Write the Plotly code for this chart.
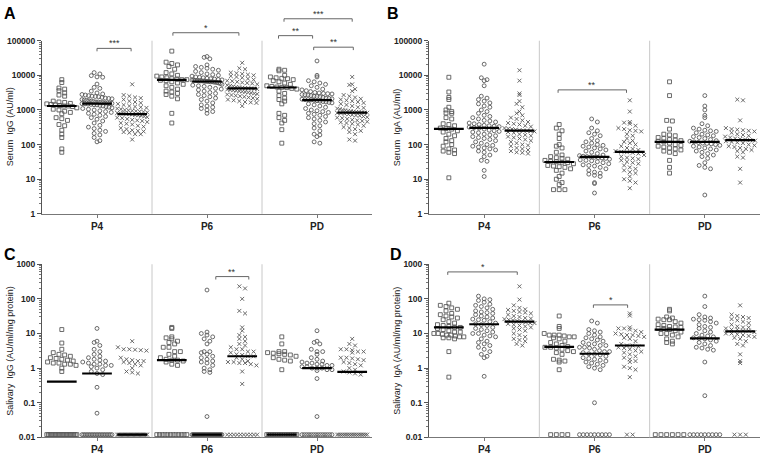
import numpy as np
import plotly.graph_objects as go

ND = 0.012  # not-detected samples, drawn as a row at the floor of the salivary panels

groups = ["P4", "P6", "PD"]
letters = ["A", "B", "C", "D"]
ytitles = ["Serum&nbsp; IgG (AU/ml)", "Serum&nbsp; IgA (AU/ml)",
           "Salivary&nbsp; IgG (AU/ml/mg protein)", "Salivary&nbsp; IgA (AU/ml/mg protein)"]

# --- A: serum IgG (AU/ml); per group: squares / circles / crosses
a_p4_sq = [7500, 6200, 4300, 4000, 3600, 3100, 2700, 2500, 1800, 1700, 1650, 1550, 1500, 1450, 1400,
           1350, 1300, 1300, 1250, 1150, 1050, 1000, 920, 850, 780, 600, 560, 500, 380, 350, 260, 200,
           160, 75, 60]
a_p4_ci = [12000, 11000, 9800, 9000, 8800, 5600, 4500, 4200, 3500, 3100, 2900, 2800, 2700, 2600, 2500,
           2450, 2400, 2300, 2200, 2150, 2100, 2000, 1950, 1900, 1850, 1800, 1750, 1700, 1700, 1650,
           1650, 1600, 1600, 1580, 1550, 1520, 1500, 1480, 1450, 1420, 1400, 1350, 1300, 1250, 1200,
           1150, 1100, 1050, 1000, 950, 900, 850, 800, 750, 700, 650, 600, 540, 480, 420, 360, 320, 290,
           260, 240, 210, 190, 160, 130, 120]
a_p4_x = [5500, 2700, 2500, 2300, 2200, 2000, 1800, 1700, 1600, 1500, 1400, 1300, 1250, 1200, 1150,
          1100, 1050, 1000, 980, 950, 920, 900, 880, 850, 820, 800, 800, 780, 760, 740, 720, 700, 680,
          650, 620, 600, 580, 550, 520, 500, 480, 450, 420, 400, 380, 350, 330, 300, 280, 260, 250, 240,
          230, 220, 200, 200, 140]
a_p6_sq = [50000, 24000, 22000, 20000, 18000, 15000, 12000, 11000, 10000, 9500, 9000, 8500, 8000, 7800,
           7500, 7500, 7200, 7000, 6500, 6000, 5500, 5000, 4500, 4000, 3500, 3300, 3000, 2800, 2500,
           2100, 800, 420]
a_p6_ci = [35000, 33000, 30000, 20000, 18000, 17000, 16000, 15000, 14000, 13000, 12000, 11000, 10500,
           10000, 9500, 9000, 8800, 8500, 8200, 8000, 7800, 7600, 7400, 7300, 7200, 7100, 7000, 7000,
           6900, 6900, 6800, 6700, 6700, 6600, 6500, 6500, 6400, 6300, 6200, 6000, 5800, 5500, 5200,
           5000, 4800, 4500, 4200, 4000, 3800, 3500, 3200, 3000, 2800, 2600, 2400, 2200, 2000, 1800,
           1600, 1400, 1300, 1200, 1100, 1000, 900, 800]
a_p6_x = [23000, 16000, 15000, 12000, 11500, 11000, 10500, 10000, 9500, 9000, 8500, 8000, 7500, 7000,
          6800, 6500, 6200, 6000, 5800, 5500, 5200, 5000, 4800, 4600, 4500, 4400, 4300, 4200, 4200, 4100,
          4000, 3900, 3800, 3700, 3600, 3500, 3400, 3300, 3200, 3100, 3000, 2900, 2800, 2700, 2600, 2500,
          2400, 2300, 2200, 2100, 2000, 1900, 1800, 1700, 1650, 1600, 1300]
a_pd_sq = [15000, 14000, 13500, 10000, 9000, 8500, 8200, 8000, 7500, 7000, 6500, 6000, 5500, 5000, 4800,
           4600, 4500, 4400, 4200, 4000, 3500, 3000, 2600, 2200, 2000, 1800, 1500, 800, 700, 600, 500,
           420, 270, 110]
a_pd_ci = [26000, 10000, 9000, 7000, 6500, 6000, 5500, 5000, 4500, 4000, 3800, 3600, 3400, 3200, 3100,
           3000, 2950, 2900, 2800, 2750, 2700, 2600, 2500, 2450, 2400, 2300, 2200, 2150, 2100, 2050,
           2000, 2000, 1950, 1900, 1850, 1800, 1750, 1700, 1650, 1600, 1500, 1400, 1300, 1200, 1100,
           1000, 950, 900, 850, 800, 750, 700, 650, 600, 550, 500, 450, 400, 350, 300, 250, 200, 190,
           170, 120, 110]
a_pd_x = [9000, 5500, 5300, 4000, 3500, 2700, 2500, 2300, 2100, 2000, 1900, 1800, 1700, 1600, 1500, 1400,
          1300, 1200, 1150, 1100, 1050, 1000, 980, 950, 920, 900, 880, 860, 850, 840, 830, 820, 800, 780,
          750, 720, 700, 680, 650, 620, 600, 580, 550, 520, 500, 480, 460, 440, 420, 400, 380, 350, 320,
          300, 280, 250, 230, 200, 140, 130]

# --- B: serum IgA (AU/ml)
b_p4_sq = [8800, 3300, 2300, 2000, 1200, 1000, 900, 820, 800, 600, 550, 400, 380, 350, 300, 290, 280,
           250, 230, 200, 180, 150, 130, 120, 100, 90, 75, 70, 65, 60, 55, 11]
b_p4_ci = [21000, 8500, 7500, 7000, 5000, 2500, 2200, 2000, 1800, 1600, 1500, 1300, 1200, 1000, 900, 800,
           700, 650, 600, 550, 500, 480, 450, 420, 400, 380, 360, 350, 340, 330, 320, 310, 300, 280, 260,
           250, 240, 230, 220, 200, 190, 180, 170, 160, 150, 140, 130, 120, 110, 100, 95, 90, 85, 80, 75,
           70, 65, 60, 50, 45, 35, 33, 18, 12]
b_p4_x = [14000, 7000, 3000, 2700, 1800, 1500, 1200, 900, 800, 700, 600, 550, 500, 450, 420, 400, 380,
          350, 330, 300, 290, 280, 270, 260, 255, 250, 245, 240, 230, 220, 200, 190, 180, 170, 160, 150,
          140, 130, 120, 110, 100, 95, 90, 80, 75, 70, 65, 60, 58, 55]
b_p6_sq = [380, 300, 250, 200, 150, 100, 90, 80, 60, 50, 45, 42, 40, 38, 35, 33, 32, 31, 30, 28, 25, 24,
           23, 22, 20, 18, 15, 12, 10, 8, 7, 5, 5, 5]
b_p6_ci = [550, 450, 300, 250, 220, 200, 180, 150, 130, 120, 110, 100, 95, 90, 85, 80, 75, 70, 65, 60, 55,
           50, 48, 46, 45, 44, 43, 42, 41, 40, 38, 36, 35, 34, 32, 30, 28, 26, 25, 24, 22, 20, 18, 16, 15,
           14, 13, 12, 8, 7.5, 4]
b_p6_x = [1900, 900, 450, 430, 400, 350, 300, 280, 260, 250, 240, 200, 180, 150, 130, 120, 110, 100, 90,
          80, 75, 70, 65, 62, 60, 58, 55, 50, 45, 42, 40, 38, 35, 32, 30, 28, 25, 22, 20, 18, 16, 15, 12,
          10, 9, 8, 5.5]
b_pd_sq = [6500, 2600, 500, 480, 280, 200, 190, 180, 160, 150, 140, 135, 130, 125, 120, 110, 100, 95, 90,
           85, 80, 75, 70, 65, 60, 55, 35, 22, 15]
b_pd_ci = [2600, 1300, 1000, 700, 600, 400, 350, 300, 280, 260, 250, 240, 220, 200, 190, 180, 170, 160,
           150, 140, 130, 125, 120, 115, 110, 108, 105, 100, 95, 90, 85, 80, 75, 70, 65, 60, 55, 50, 45,
           40, 30, 25, 22, 20, 3.5]
b_pd_x = [2000, 1900, 500, 300, 280, 270, 260, 250, 240, 220, 200, 190, 180, 170, 160, 150, 145, 140, 135,
          130, 125, 120, 115, 110, 100, 95, 90, 85, 80, 75, 70, 65, 60, 45, 42, 20, 8]

# --- C: salivary IgG (AU/ml/mg protein)
c_p4_sq = [13, 5.3, 3.5, 2.8, 2.5, 2.4, 2.2, 2.0, 1.9, 1.8, 1.7, 1.6, 1.5, 1.4, 1.4, 1.3, 1.3, 1.2, 1.0,
           0.8] + [ND] * 20
c_p4_ci = [14, 6, 5.5, 4.5, 3.5, 3.0, 2.5, 2.2, 2.0, 1.8, 1.7, 1.6, 1.5, 1.4, 1.3, 1.3, 1.2, 1.2, 1.1,
           1.0, 0.9, 0.8, 0.7, 0.65, 0.28, 0.05] + [ND] * 19
c_p4_x = [6, 4, 3.5, 3.5, 3.4, 3.3, 3.2, 2.0, 1.8, 1.7, 1.6, 1.6, 1.5, 1.4, 1.3, 1.2, 1.0, 0.8, 0.75,
          0.7] + [ND] * 26
c_p6_sq = [15, 14, 8, 7.5, 7, 6, 5.5, 5, 4, 4, 3, 3, 2.5, 2.2, 2, 1.8, 1.7, 1.7, 1.6, 1.5, 1.3,
           1.2] + [ND] * 12
c_p6_ci = [180, 11, 10, 9, 8, 7, 6, 5, 3, 3, 2.8, 2.5, 2.2, 2, 1.8, 1.6, 1.5, 1.4, 1.2, 1.0, 0.9, 0.8,
           0.75, 0.04] + [ND] * 30
c_p6_x = [230, 200, 100, 45, 38, 15, 12, 9, 8, 7, 6, 5, 4.5, 4, 3.5, 3.5, 3, 3, 2.8, 2.5, 2.4, 2.2, 2.2,
          2.0, 1.8, 1.6, 1.5, 1.5, 1.4, 1.4, 1.3, 1.2, 0.8, 0.35] + [ND] * 10
c_pd_sq = [8, 5, 3, 3, 2.8, 2.7, 2.6, 2.5, 2.4, 2.2, 2, 1.8, 1.7, 1.6, 0.9] + [ND] * 18
c_pd_ci = [12, 6, 5.5, 5, 3.5, 3, 3, 2.5, 2, 1.8, 1.6, 1.5, 1.4, 1.4, 1.3, 1.3, 1.2, 1.2, 1.1, 1.1, 1.0,
           1.0, 1.0, 0.9, 0.9, 0.85, 0.5, 0.04] + [ND] * 14
c_pd_x = [7, 5, 4.5, 3.5, 3.5, 3.3, 3, 3, 2.8, 2, 2, 1.9, 1.8, 1.7, 1.5, 1.4, 1.3, 1.2, 1, 0.9, 0.8, 0.75,
          0.7, 0.65] + [ND] * 18

# --- D: salivary IgA (AU/ml/mg protein)
d_p4_sq = [75, 65, 60, 55, 50, 45, 38, 35, 32, 30, 28, 25, 22, 20, 18, 17, 16, 15, 15, 14, 13, 12, 11,
           11, 10, 10, 9.5, 9, 9, 8.5, 8, 8, 7.5, 7.5, 7, 3, 0.55]
d_p4_ci = [120, 100, 95, 90, 80, 70, 65, 60, 55, 50, 45, 42, 40, 38, 35, 32, 30, 28, 26, 25, 24, 22, 20,
           19, 18, 17, 15, 14, 13, 12, 11, 10, 10, 9, 8.5, 8, 7, 6, 5.5, 5, 4.5, 4, 3.5, 3, 2.5, 2.2, 2,
           0.58]
d_p4_x = [230, 95, 65, 55, 50, 48, 45, 42, 40, 38, 35, 32, 30, 28, 27, 26, 25, 24, 23, 22, 21, 20, 20,
          19, 18, 17, 16, 15, 14, 13, 12, 10, 9, 8, 7, 6.5, 6, 5, 4.5]
d_p6_sq = [32, 16, 14, 10, 9, 9, 9, 8.5, 8, 8, 7.5, 7, 6, 5.5, 5, 4.5, 4.2, 4, 4, 3.8, 3.5, 3.2, 3, 2.8,
           2.5, 1.8, 1.7, 1.6, 1.5, 0.9] + [ND] * 4
d_p6_ci = [23, 20, 13, 12, 11, 10, 9, 8, 7.5, 7, 6.5, 6, 5.5, 5, 5, 4.5, 4.5, 4, 4, 3.8, 3.5, 3.2, 3, 3,
           2.8, 2.6, 2.5, 2.4, 2.2, 2.0, 1.9, 1.8, 1.7, 1.6, 1.5, 1.4, 1.3, 1.2, 1.1, 1.0, 0.9,
           0.1] + [ND] * 9
d_p6_x = [38, 33, 15, 14, 14, 13, 12, 11, 10, 9.5, 9, 9, 8.5, 8, 7.5, 7, 6, 5, 4.5, 4.5, 4.2, 4, 3.8,
          3.5, 3.2, 3, 2.8, 2.5, 2.2, 2, 1.8, 1.6, 1.5, 1.1, 1.0, 0.9, 0.55] + [ND] * 2
d_pd_sq = [50, 45, 30, 28, 26, 25, 25, 22, 20, 18, 17, 16, 15.5, 15, 14, 14, 13, 12, 11, 10, 10, 9, 8, 7,
           6, 5.5, 5] + [ND] * 6
d_pd_ci = [120, 60, 35, 30, 28, 26, 25, 24, 22, 20, 18, 16, 15, 14, 12, 11, 10, 9, 8.5, 8, 7.5, 7.2, 7,
           6.5, 6, 5.5, 5, 4.5, 4, 3.8, 3.5, 3.3, 1.5, 0.16] + [ND] * 9
d_pd_x = [65, 35, 32, 30, 28, 26, 24, 22, 20, 18, 16, 15, 15, 14, 13, 13, 12, 12, 11, 10, 10, 9.5, 9,
          8.5, 8, 7.5, 7, 6, 5, 4.5, 2.5, 1.6, 1.4] + [ND] * 3

panels = [
    [[a_p4_sq, a_p4_ci, a_p4_x], [a_p6_sq, a_p6_ci, a_p6_x], [a_pd_sq, a_pd_ci, a_pd_x]],
    [[b_p4_sq, b_p4_ci, b_p4_x], [b_p6_sq, b_p6_ci, b_p6_x], [b_pd_sq, b_pd_ci, b_pd_x]],
    [[c_p4_sq, c_p4_ci, c_p4_x], [c_p6_sq, c_p6_ci, c_p6_x], [c_pd_sq, c_pd_ci, c_pd_x]],
    [[d_p4_sq, d_p4_ci, d_p4_x], [d_p6_sq, d_p6_ci, d_p6_x], [d_pd_sq, d_pd_ci, d_pd_x]],
]

# significance brackets: (panel, x from, x to, height in axis units, label)
brackets = [
    (0, 0.0, 0.31, 6e4, "***"), (0, 0.69, 1.29, 1.7e5, "*"), (0, 1.65, 1.96, 1.4e5, "**"),
    (0, 1.97, 2.33, 6.5e4, "**"), (0, 1.70, 2.32, 4.3e5, "***"),
    (1, 0.67, 1.29, 3800, "**"),
    (2, 1.08, 1.38, 440, "**"),
    (3, -0.33, 0.30, 600, "*"), (3, 0.99, 1.30, 67, "*"),
]

W, H = 760, 460
FONT = "Liberation Sans"
INK = "#5a5a5a"
# pixel boxes: x left, x right, y top, y bottom, log range
geo = [(42, 372, 36.5, 213.5, 0, 5), (429, 760, 36.5, 213.5, 0, 5),
       (42, 372, 265, 442, -2, 3), (429, 760, 265, 442, -2, 3)]
letter_px = [(2, 9), (385, 9), (2, 255), (388, 255)]   # left, vertical centre
offsets = [-0.32, 0.0, 0.32]
symbols = ["square-open", "circle-open", "x-thin-open"]
MK = 3.9      # marker size
STEP = 5.7    # horizontal spacing inside a row (px)
ROW = 4.8     # row height (px)


def swarm(vals, center, ppd, ppc, maxw=30.0):
    # Prism-like scatter: bin by screen row, spread each row around the column centre
    v = np.sort(np.asarray(vals, float))[::-1]
    rows = np.round(np.log10(v) * ppd / ROW)
    xs = np.empty(len(v))
    for r in np.unique(rows):
        idx = np.where(rows == r)[0]
        n = len(idx)
        step = STEP if n < 2 else min(STEP, maxw / (n - 1))
        xs[idx] = center + (np.arange(n) - (n - 1) / 2) * step / ppc
    return xs, v


fig = go.Figure()
shapes, notes = [], []
for p, data in enumerate(panels):
    x0, x1, yt, yb, lo, hi = geo[p]
    ppd = (yb - yt) / (hi - lo)
    ppc = (x1 - x0) / 3
    sx = "" if p == 0 else str(p + 1)
    med_x, med_y = [], []
    for g, subs in enumerate(data):
        for s, vals in enumerate(subs):
            c = g + offsets[s]
            xs, ys = swarm(vals, c, ppd, ppc)
            fig.add_trace(go.Scatter(
                x=xs, y=ys, mode="markers", xaxis="x" + sx, yaxis="y" + sx,
                marker=dict(symbol=symbols[s], size=MK, color=INK,
                            line=dict(width=0.9, color=INK)),
                showlegend=False, hoverinfo="skip"))
            m = float(np.median(vals))
            med_x += [c - 0.135, c + 0.135, None]
            med_y += [m, m, None]
    fig.add_trace(go.Scatter(x=med_x, y=med_y, mode="lines", xaxis="x" + sx, yaxis="y" + sx,
                             line=dict(color="black", width=2.2), showlegend=False,
                             hoverinfo="skip"))

    dom_x = [x0 / W, x1 / W]
    dom_y = [1 - yb / H, 1 - yt / H]
    exps = list(range(lo, hi + 1))
    major = [10.0 ** e for e in exps]
    minor = [k * 10.0 ** e for e in exps[:-1] for k in range(2, 10)]
    fig.layout["xaxis" + sx] = dict(
        domain=dom_x, anchor="y" + sx, range=[-0.5, 2.5], tickvals=[0, 1, 2], ticktext=groups,
        showline=True, linecolor="#777", linewidth=1, ticks="outside", ticklen=3,
        tickcolor="#777", showgrid=False, zeroline=False, fixedrange=True,
        tickfont=dict(family=FONT, size=10, color="#222", weight="bold"))
    fig.layout["yaxis" + sx] = dict(
        domain=dom_y, anchor="x" + sx, type="log", range=[lo, hi], tickvals=major,
        ticktext=[f"{t:g}" if t < 1 else f"{int(t)}" for t in major],
        showline=True, linecolor="#555", linewidth=1, ticks="outside", ticklen=4,
        tickcolor="#555", showgrid=False, zeroline=False, fixedrange=True,
        minor=dict(tickvals=minor, ticks="outside", ticklen=2, tickcolor="#777"),
        tickfont=dict(family=FONT, size=8.5, color="#222", weight="bold"))

    xr = "x" + sx
    for xd in (0.5, 1.5):
        shapes.append(dict(type="line", xref=xr, yref=f"y{sx} domain", x0=xd, x1=xd, y0=0, y1=1,
                           line=dict(color="#c8c8c8", width=1)))

    lx, ly = letter_px[p]
    notes.append(dict(text=f"<b>{letters[p]}</b>", xref="paper", yref="paper",
                      x=lx / W, y=1 - ly / H, xanchor="left", yanchor="middle", showarrow=False,
                      font=dict(family=FONT, size=16, color="black")))
    notes.append(dict(text=ytitles[p], xref="paper", yref="paper", textangle=-90,
                      x=(x0 - 32) / W, y=1 - (yt + yb) / 2 / H, xanchor="center",
                      yanchor="middle", showarrow=False,
                      font=dict(family=FONT, size=9, color="#222")))

for p, xa, xb, yv, lab in brackets:
    x0, x1, yt, yb, lo, hi = geo[p]
    sx = "" if p == 0 else str(p + 1)
    fy = (np.log10(yv) - lo) / (hi - lo)
    dy = 3 / (yb - yt)
    for a, b, c, d in ((xa, fy - dy, xa, fy), (xa, fy, xb, fy), (xb, fy, xb, fy - dy)):
        shapes.append(dict(type="line", xref="x" + sx, yref=f"y{sx} domain", x0=a, y0=b, x1=c,
                           y1=d, line=dict(color="#666", width=1)))
    notes.append(dict(text=lab, xref="x" + sx, yref=f"y{sx} domain", x=(xa + xb) / 2, y=fy,
                      xanchor="center", yanchor="bottom", showarrow=False, yshift=-2,
                      font=dict(family=FONT, size=9, color="#333")))

fig.update_layout(width=W, height=H, margin=dict(l=0, r=0, t=0, b=0),
                  paper_bgcolor="white", plot_bgcolor="white",
                  shapes=shapes, annotations=notes)
# the page body has a default margin; drop it so the figure starts at the window corner
fig.write_html("out.html", config={"displayModeBar": False},
               post_script="document.body.style.margin='0px';")
